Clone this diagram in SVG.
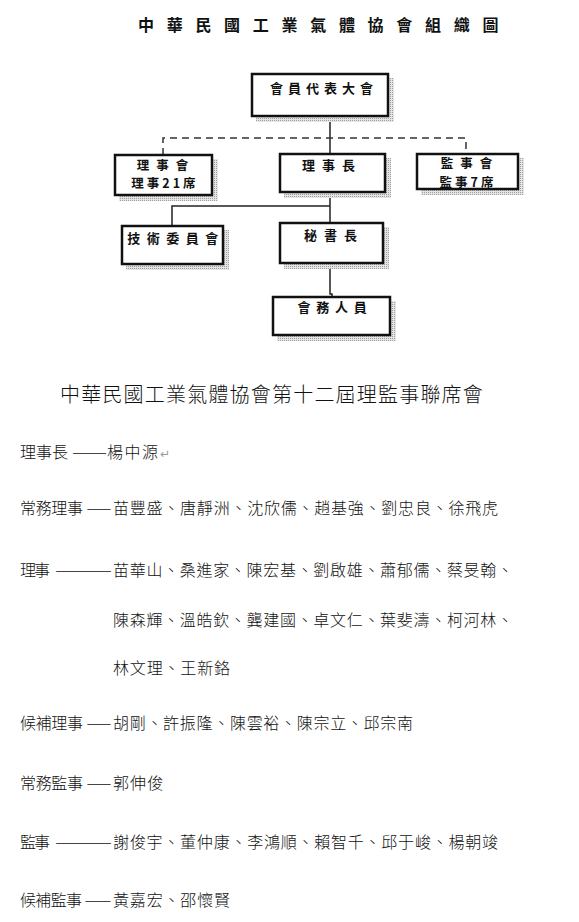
<svg xmlns="http://www.w3.org/2000/svg" width="579" height="922" viewBox="0 0 579 922">
<defs>
<pattern id="stip" width="2" height="2" patternUnits="userSpaceOnUse">
<rect width="2" height="2" fill="#e4e4e4"/>
<rect width="1" height="1" fill="#a0a0a0"/>
</pattern>
<style>
.box{fill:#fff;stroke:#111;stroke-width:2.5}
.sh{fill:url(#stip)}
.bt{font-family:"Noto Sans CJK TC","Noto Sans CJK SC",sans-serif;font-size:13px;font-weight:700;fill:#111;text-anchor:middle}
.b2{font-size:12.5px}
.ln{fill:none;stroke:#222;stroke-width:1.5}
.dash{fill:none;stroke:#333;stroke-width:1.5;stroke-dasharray:7 5}
.tt{font-family:"Noto Sans CJK TC","Noto Sans CJK SC",sans-serif;font-size:16px;font-weight:700;fill:#111;letter-spacing:12.7px}
.h2{font-family:"Noto Sans CJK TC","Noto Sans CJK SC",sans-serif;font-size:20px;font-weight:300;fill:#111;letter-spacing:1.2px}
.tx{font-family:"Noto Sans CJK TC","Noto Sans CJK SC",sans-serif;font-size:16px;font-weight:300;fill:#111}
.rt{font-family:"DejaVu Sans",sans-serif;font-size:12px;fill:#999}
</style>
</defs>
<rect width="579" height="922" fill="#fff"/>
<text class="tt" x="138" y="31">中華民國工業氣體協會組織圖</text>

<g id="connectors">
<path class="ln" d="M330 116V154"/>
<path class="dash" d="M163 155V138H466V154"/>
<path class="ln" d="M330 192V223"/>
<path class="ln" d="M330 206H172V226"/>
<path class="ln" d="M330 263V294H332V297"/>
</g>

<g id="node-assembly">
<rect class="sh" x="256" y="78" width="138" height="44"/>
<rect class="box" x="252" y="74" width="136" height="42"/>
<text class="bt" x="324" y="93" letter-spacing="5">會員代表大會</text>
</g>
<g id="node-board">
<rect class="sh" x="119" y="159" width="99" height="42"/>
<rect class="box" x="115" y="155" width="97" height="40"/>
<text class="bt b2" x="166" y="169.5" letter-spacing="7">理事會</text>
<text class="bt b2" x="165" y="188" letter-spacing="3">理事21席</text>
</g>
<g id="node-chair">
<rect class="sh" x="284" y="158" width="107" height="40"/>
<rect class="box" x="280" y="154" width="105" height="38"/>
<text class="bt" x="332" y="170" letter-spacing="7">理事長</text>
</g>
<g id="node-supervisors">
<rect class="sh" x="421" y="158" width="103" height="37"/>
<rect class="box" x="417" y="154" width="101" height="35"/>
<text class="bt b2" x="470" y="168" letter-spacing="7">監事會</text>
<text class="bt b2" x="468" y="186.5" letter-spacing="3">監事7席</text>
</g>
<g id="node-tech">
<rect class="sh" x="126" y="230" width="103" height="40"/>
<rect class="box" x="122" y="226" width="101" height="38"/>
<text class="bt" x="176" y="243" letter-spacing="6.5">技術委員會</text>
</g>
<g id="node-secretary">
<rect class="sh" x="284" y="227" width="105" height="42"/>
<rect class="box" x="280" y="223" width="103" height="40"/>
<text class="bt" x="334" y="240" letter-spacing="7">秘書長</text>
</g>
<g id="node-staff">
<rect class="sh" x="277" y="301" width="119" height="40"/>
<rect class="box" x="273" y="297" width="117" height="38"/>
<text class="bt" x="335" y="312" letter-spacing="5.7">會務人員</text>
</g>

<text class="h2" x="60" y="402">中華民國工業氣體協會第十二屆理監事聯席會</text>

<g id="roster">
<text class="tx" x="20" y="458">理事長</text>
<text class="tx" x="72" y="458" textLength="35" lengthAdjust="spacingAndGlyphs">——</text>
<text class="tx" x="107" y="458" textLength="51" lengthAdjust="spacing">楊中源</text>
<text class="rt" x="160" y="458">↵</text>

<text class="tx" x="20" y="514" textLength="63" lengthAdjust="spacing">常務理事</text>
<text class="tx" x="86" y="514" textLength="26" lengthAdjust="spacingAndGlyphs">—</text>
<text class="tx" x="113" y="514" textLength="385" lengthAdjust="spacing">苗豐盛、唐靜洲、沈欣儒、趙基強、劉忠良、徐飛虎</text>

<text class="tx" x="20" y="576" textLength="30" lengthAdjust="spacing">理事</text>
<text class="tx" x="55" y="576" textLength="57" lengthAdjust="spacingAndGlyphs">———</text>
<text class="tx" x="113" y="576" textLength="400" lengthAdjust="spacing">苗華山、桑進家、陳宏基、劉啟雄、蕭郁儒、蔡旻翰、</text>
<text class="tx" x="113" y="626" textLength="400" lengthAdjust="spacing">陳森輝、溫皓欽、龔建國、卓文仁、葉斐濤、柯河林、</text>
<text class="tx" x="113" y="674" textLength="117" lengthAdjust="spacing">林文理、王新鉻</text>

<text class="tx" x="20" y="729" textLength="63" lengthAdjust="spacing">候補理事</text>
<text class="tx" x="86" y="729" textLength="26" lengthAdjust="spacingAndGlyphs">—</text>
<text class="tx" x="113" y="729" textLength="300" lengthAdjust="spacing">胡剛、許振隆、陳雲裕、陳宗立、邱宗南</text>

<text class="tx" x="20" y="789" textLength="63" lengthAdjust="spacing">常務監事</text>
<text class="tx" x="86" y="789" textLength="26" lengthAdjust="spacingAndGlyphs">—</text>
<text class="tx" x="113" y="789" textLength="50" lengthAdjust="spacing">郭伸俊</text>

<text class="tx" x="20" y="848" textLength="30" lengthAdjust="spacing">監事</text>
<text class="tx" x="55" y="848" textLength="57" lengthAdjust="spacingAndGlyphs">———</text>
<text class="tx" x="113" y="848" textLength="385" lengthAdjust="spacing">謝俊宇、董仲康、李鴻順、賴智千、邱于峻、楊朝竣</text>

<text class="tx" x="20" y="906" textLength="62" lengthAdjust="spacing">候補監事</text>
<text class="tx" x="84" y="906" textLength="28" lengthAdjust="spacingAndGlyphs">—</text>
<text class="tx" x="113" y="906" textLength="117" lengthAdjust="spacing">黃嘉宏、邵懷賢</text>
</g>
</svg>
